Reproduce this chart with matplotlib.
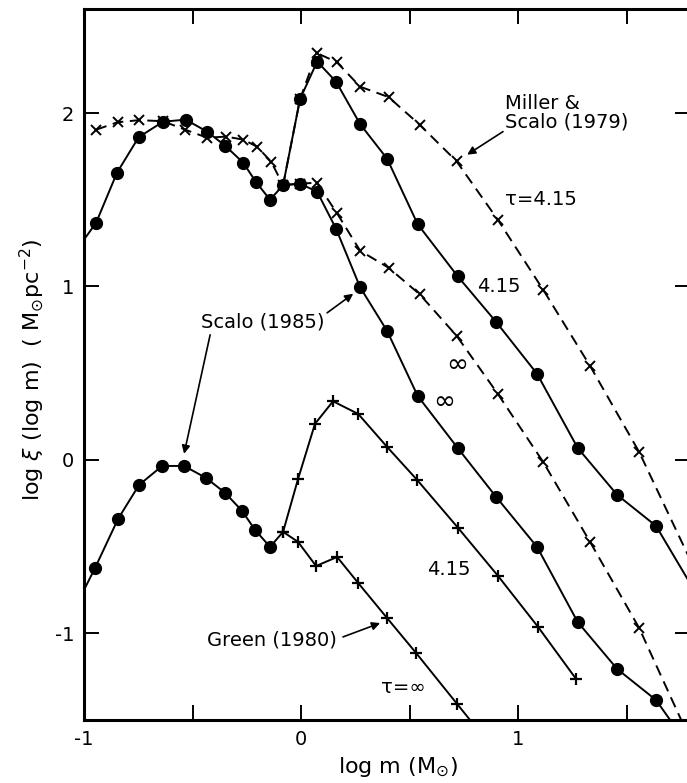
import matplotlib
matplotlib.use("Agg")
from matplotlib import pyplot as plt

# Scalo (1985), upper curve: common part then the two branches (tau = 4.15 / infinity)
scalo_x = [-1.0, -0.944, -0.848, -0.748, -0.636, -0.532, -0.433, -0.350, -0.267, -0.207, -0.143, -0.083]
scalo_y = [1.27, 1.368, 1.656, 1.861, 1.950, 1.962, 1.893, 1.812, 1.714, 1.601, 1.500, 1.584]
scalo_br_x = [-0.005, 0.074, 0.161, 0.272, 0.396, 0.537, 0.721, 0.900, 1.087, 1.274, 1.456, 1.635, 1.824]
scalo_415_y = [2.080, 2.297, 2.181, 1.936, 1.737, 1.359, 1.059, 0.793, 0.496, 0.069, -0.202, -0.381, -0.78]
scalo_inf_y = [1.593, 1.546, 1.333, 0.995, 0.744, 0.369, 0.069, -0.216, -0.502, -0.935, -1.206, -1.385, -1.72]

# Miller & Scalo (1979), dashed
miller_x = [-0.944, -0.845, -0.746, -0.636, -0.534, -0.433, -0.345, -0.267, -0.203, -0.138, -0.083]
miller_y = [1.904, 1.947, 1.959, 1.953, 1.904, 1.858, 1.864, 1.847, 1.806, 1.720, 1.584]
miller_br_x = [-0.005, 0.072, 0.164, 0.272, 0.403, 0.546, 0.716, 0.906, 1.115, 1.331, 1.557, 1.824]
miller_415_y = [2.08, 2.346, 2.294, 2.152, 2.092, 1.933, 1.722, 1.385, 0.981, 0.542, 0.046, -0.66]
miller_inf_y = [1.593, 1.598, 1.425, 1.206, 1.108, 0.955, 0.716, 0.381, -0.012, -0.473, -0.969, -1.70]

# Scalo (1985), lower curve
low_x = [-1.0, -0.949, -0.843, -0.746, -0.640, -0.539, -0.438, -0.350, -0.272, -0.212, -0.143, -0.083]
low_y = [-0.75, -0.623, -0.340, -0.144, -0.035, -0.035, -0.104, -0.190, -0.294, -0.404, -0.502, -0.415]

# Green (1980)
green_415_x = [-0.083, -0.014, 0.064, 0.147, 0.263, 0.396, 0.534, 0.723, 0.907, 1.092, 1.267]
green_415_y = [-0.415, -0.110, 0.208, 0.338, 0.265, 0.075, -0.115, -0.392, -0.669, -0.964, -1.264]
green_inf_x = [-0.083, -0.014, 0.069, 0.166, 0.263, 0.396, 0.530, 0.719, 0.907]
green_inf_y = [-0.415, -0.473, -0.612, -0.560, -0.710, -0.912, -1.114, -1.408, -1.70]

xticks = [-1, -0.5, 0, 0.5, 1, 1.5]
xticklabels = ['-1', '', '0', '', '1', '']
yticks = [-1, 0, 1, 2]
yticklabels = ['-1', '0', '1', '2']

W, H = 687, 783
fig = plt.figure(figsize=(W / 100, H / 100), dpi=100)
ax = fig.add_axes([84 / W, 63 / H, 605.7 / W, 711 / H])

lw = 1.4
dash = (0, (5.6, 3.4))
# dashed Miller & Scalo first so the circles sit on top
ax.plot(miller_x, miller_y, color='k', lw=lw, ls=dash, marker='x', ms=7.5, mew=1.4)
ax.plot([miller_x[-1]] + miller_br_x, [miller_y[-1]] + miller_415_y, color='k', lw=lw, ls=dash,
        marker='x', ms=7.5, mew=1.4, markevery=slice(1, None))
ax.plot([miller_x[-1]] + miller_br_x, [miller_y[-1]] + miller_inf_y, color='k', lw=lw, ls=dash,
        marker='x', ms=7.5, mew=1.4, markevery=slice(1, None))

ax.plot(scalo_x, scalo_y, color='k', lw=lw, marker='o', ms=8.5, markevery=slice(1, None))
ax.plot([scalo_x[-1]] + scalo_br_x, [scalo_y[-1]] + scalo_415_y, color='k', lw=lw, marker='o', ms=8.5,
        markevery=slice(1, None))
ax.plot([scalo_x[-1]] + scalo_br_x, [scalo_y[-1]] + scalo_inf_y, color='k', lw=lw, marker='o', ms=8.5,
        markevery=slice(1, None))

ax.plot(low_x, low_y, color='k', lw=lw, marker='o', ms=8.5, markevery=slice(1, -1))
ax.plot(green_415_x, green_415_y, color='k', lw=lw, marker='+', ms=9, mew=1.6)
ax.plot(green_inf_x, green_inf_y, color='k', lw=lw, marker='+', ms=9, mew=1.6)

ax.set_xlim(-1.0, 1.79)
ax.set_ylim(-1.5, 2.6)
ax.set_xticks(xticks)
ax.set_xticklabels(xticklabels)
ax.set_yticks(yticks)
ax.set_yticklabels(yticklabels)
ax.tick_params(direction='in', length=11, width=1.4, top=True, right=True, labelsize=14, pad=7)
for side in ['left', 'bottom', 'top']:
    ax.spines[side].set_linewidth(2.2)
ax.spines['right'].set_visible(False)

fs = 14
arr = dict(arrowstyle='-|>', lw=1.2, color='k', mutation_scale=12, shrinkA=0, shrinkB=0)

ax.text(0.94, 2.0, 'Miller &\nScalo (1979)', fontsize=fs, ha='left', va='center', linespacing=0.95)
ax.annotate('', xy=(0.765, 1.76), xytext=(0.93, 1.893), arrowprops=arr)
ax.text(0.94, 1.50, 'τ=4.15', fontsize=fs, ha='left', va='center')
ax.text(0.81, 1.0, '4.15', fontsize=fs, ha='left', va='center')
ax.text(0.72, 0.548, '∞', fontsize=19, ha='center', va='center')
ax.text(0.66, 0.335, '∞', fontsize=19, ha='center', va='center')

ax.text(-0.175, 0.796, 'Scalo (1985)', fontsize=fs, ha='center', va='center')
ax.annotate('', xy=(0.24, 0.958), xytext=(0.12, 0.848), arrowprops=arr)
ax.annotate('', xy=(-0.539, 0.035), xytext=(-0.419, 0.721), arrowprops=arr)

ax.text(-0.134, -1.039, 'Green (1980)', fontsize=fs, ha='center', va='center')
ax.annotate('', xy=(0.364, -0.941), xytext=(0.193, -1.021), arrowprops=arr)
ax.text(0.68, -0.635, '4.15', fontsize=fs, ha='center', va='center')
ax.text(0.47, -1.31, 'τ=∞', fontsize=fs, ha='center', va='center')

fig.text(398 / W, 1 - 767 / H, r'log m (M$_{\odot}$)', fontsize=16, ha='center', va='center')
fig.text(32 / W, 1 - 370 / H, r'log $\xi$ (log m)  ( M$_{\odot}$pc$^{-2}$)', fontsize=16,
         ha='center', va='center', rotation=90)

fig.savefig('out.png', dpi=100)
